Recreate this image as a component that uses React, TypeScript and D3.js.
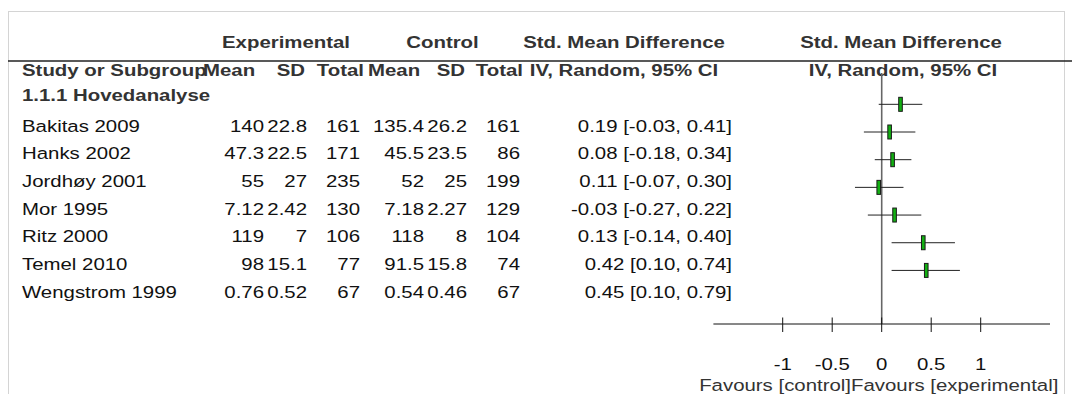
import * as d3 from "d3";

// table data
const studies = ["Bakitas 2009", "Hanks 2002", "Jordhøy 2001", "Mor 1995", "Ritz 2000", "Temel 2010", "Wengstrom 1999"];
const expMean = [140, 47.3, 55, 7.12, 119, 98, 0.76];
const expSD = [22.8, 22.5, 27, 2.42, 7, 15.1, 0.52];
const expTotal = [161, 171, 235, 130, 106, 77, 67];
const ctrlMean = [135.4, 45.5, 52, 7.18, 118, 91.5, 0.54];
const ctrlSD = [26.2, 23.5, 25, 2.27, 8, 15.8, 0.46];
const ctrlTotal = [161, 86, 199, 129, 104, 74, 67];
const smd = [0.19, 0.08, 0.11, -0.03, 0.13, 0.42, 0.45];
const ciLow = [-0.03, -0.18, -0.07, -0.27, -0.14, 0.1, 0.1];
const ciHigh = [0.41, 0.34, 0.3, 0.22, 0.4, 0.74, 0.79];
const axisTicks = [-1, -0.5, 0, 0.5, 1];

const W = 1072;
const H = 394;
const FONT = "'Liberation Sans', Arial, sans-serif";
const FS = 17;
const SX = 1.2; // glyphs are stretched horizontally in the original

const fmt2 = (v: number) => v.toFixed(2);

function T({ x, y, anchor = "start", bold = false, fill = "#111", children }: any) {
  return (
    <text
      transform={`translate(${x},${y}) scale(${SX},1)`}
      textAnchor={anchor}
      fontFamily={FONT}
      fontSize={FS}
      fontWeight={bold ? "bold" : "normal"}
      fill={fill}
    >
      {children}
    </text>
  );
}

export default function App() {
  const x = d3.scaleLinear().domain([-1.7, 1.7]).range([713.4, 1050]);
  const row = d3
    .scaleLinear()
    .domain([0, studies.length - 1])
    .range([131.6, 297.7]);
  const step = row(1) - row(0);
  const axisY = 324;

  // right edges of numeric columns
  const cols = [
    { vals: expMean, right: 264 },
    { vals: expSD, right: 307 },
    { vals: expTotal, right: 360 },
    { vals: ctrlMean, right: 424 },
    { vals: ctrlSD, right: 467 },
    { vals: ctrlTotal, right: 520 },
  ];

  const hdr = "#333";

  return (
    <svg
      width={W}
      height={H}
      style={{ position: "absolute", left: 0, top: 0, display: "block" }}
    >
      <rect x={8.5} y={11.5} width={1056} height={H} fill="none" stroke="#d4d4d4" />

      {/* header */}
      <T x={286} y={48.3} anchor="middle" bold fill={hdr}>Experimental</T>
      <T x={442.5} y={48.3} anchor="middle" bold fill={hdr}>Control</T>
      <T x={624} y={48.3} anchor="middle" bold fill={hdr}>Std. Mean Difference</T>
      <T x={901} y={48.3} anchor="middle" bold fill={hdr}>Std. Mean Difference</T>
      <line x1={8} x2={W} y1={61} y2={61} stroke="#222" strokeWidth={1.5} />
      <T x={22} y={76} bold fill={hdr}>Study or Subgroup</T>
      <T x={203} y={76} bold fill={hdr}>Mean</T>
      <T x={305} y={76} anchor="end" bold fill={hdr}>SD</T>
      <T x={364} y={76} anchor="end" bold fill={hdr}>Total</T>
      <T x={368} y={76} bold fill={hdr}>Mean</T>
      <T x={465} y={76} anchor="end" bold fill={hdr}>SD</T>
      <T x={523} y={76} anchor="end" bold fill={hdr}>Total</T>
      <T x={624} y={76} anchor="middle" bold fill={hdr}>IV, Random, 95% CI</T>
      <T x={903} y={76} anchor="middle" bold fill={hdr}>IV, Random, 95% CI</T>
      <T x={22} y={100.7} bold fill={hdr}>1.1.1 Hovedanalyse</T>

      {/* rows */}
      {studies.map((s, i) => (
        <g key={s}>
          <T x={22} y={row(i)}>{s}</T>
          {cols.map((c, j) => (
            <T key={j} x={c.right} y={row(i)} anchor="end">{String(c.vals[i])}</T>
          ))}
          <T x={732} y={row(i)} anchor="end">
            {`${fmt2(smd[i])} [${fmt2(ciLow[i])}, ${fmt2(ciHigh[i])}]`}
          </T>
        </g>
      ))}

      {/* zero line */}
      <line x1={x(0)} x2={x(0)} y1={73} y2={axisY} stroke="#666" strokeWidth={1.6} />

      {/* markers (sit one row higher than their labels, as in the original) */}
      {studies.map((s, i) => {
        const cy = row(i) - step + 0.4;
        return (
          <g key={"m" + s}>
            <line x1={x(ciLow[i])} x2={x(ciHigh[i])} y1={cy} y2={cy} stroke="#222" strokeWidth={1} />
            <rect
              x={x(smd[i]) - 1.8}
              y={cy - 7}
              width={3.6}
              height={14}
              fill="#12b012"
              stroke="#1a1a1a"
              strokeWidth={1}
            />
          </g>
        );
      })}

      {/* axis */}
      <line x1={x.range()[0]} x2={x.range()[1]} y1={axisY} y2={axisY} stroke="#111" strokeWidth={1} />
      {axisTicks.map((t) => (
        <g key={t}>
          <line x1={x(t)} x2={x(t)} y1={axisY - 6.5} y2={axisY + 8} stroke="#111" strokeWidth={1} />
          <T x={x(t)} y={370} anchor="middle">{String(t)}</T>
        </g>
      ))}
      <T x={851} y={390.5} anchor="end" fill="#333">Favours [control]</T>
      <T x={851} y={390.5} fill="#333">Favours [experimental]</T>
    </svg>
  );
}
